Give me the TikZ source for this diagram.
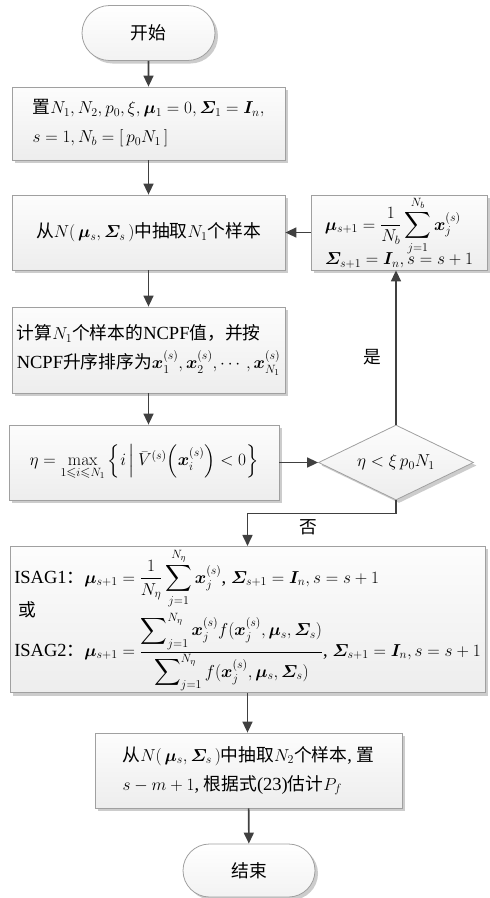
\documentclass[tikz,border=0pt]{standalone}
\usepackage{amsmath}
\usepackage{amssymb}
\usepackage{bm}
\usepackage[no-math]{fontspec}
\setmainfont{Liberation Serif}
\newfontfamily\cjk[Scale=0.96]{Noto Sans CJK SC}
\newcommand\zh[1]{{\cjk #1}}
\newcommand\fsz{\fontsize{18.5}{29}\selectfont}
\newcommand\bSig{\bm{\varSigma}}
\usetikzlibrary{shapes.geometric,shapes.misc,shadows,arrows.meta}
\definecolor{edgegray}{HTML}{A0A0A0}
\definecolor{arrowgray}{HTML}{404040}
\tikzset{
  boxbase/.style={draw=edgegray, line width=0.8pt, top color=gray!2, bottom color=gray!14,
    drop shadow={shadow xshift=3pt, shadow yshift=-3pt, fill=gray!40, opacity=1},
    font=\fsz, align=left, inner sep=2pt},
  procbox/.style={boxbase, rectangle},
  termbox/.style={boxbase, rounded rectangle, top color=white, bottom color=gray!10},
  decbox/.style={boxbase, diamond, inner sep=0pt, align=center},
  flow/.style={draw=arrowgray, line width=1.6pt, -{Triangle[length=11pt,width=10pt]}},
  lbl/.style={font=\fsz, inner sep=0pt}
}
\begin{document}
\begin{tikzpicture}[x=1pt,y=-1pt]
\useasboundingbox (0,0) rectangle (490,898);

\node[termbox, minimum width=137pt, minimum height=55pt] (start) at (148.5,33) {\zh{开始}};

\node[procbox, minimum width=273pt, minimum height=73pt] (b1) at (148.5,123.5)
  {\zh{置}$N_1, N_2, p_0, \xi, \bm{\mu}_1 = 0, \bSig_1 = \bm{I}_n,$\\
   $s = 1, N_b = [\, p_0 N_1 \,]$};

\node[procbox, minimum width=273pt, minimum height=75pt] (b2) at (148.5,232.5)
  {\zh{从}$N(\,\bm{\mu}_s, \bSig_s\,)$\zh{中抽取}$N_1$\zh{个样本}};

\node[procbox, minimum width=273pt, minimum height=86pt] (b3) at (148.5,350)
  {\zh{计算}$N_1$\zh{个样本的}NCPF\zh{值，并按}\\
   NCPF\zh{升序排序为}$\bm{x}_1^{(s)}, \bm{x}_2^{(s)}, \cdots, \bm{x}_{N_1}^{(s)}$};

\node[procbox, minimum width=270pt, minimum height=75pt] (b4) at (144,462.5)
  {$\eta = \max\limits_{1\leqslant i\leqslant N_1}\left\{ i \,\middle|\, \bar{V}^{(s)}\!\left(\bm{x}_i^{(s)}\right) < 0\right\}$};

\node[decbox, minimum width=155pt, minimum height=75pt, aspect=2] (dia) at (396,462.5)
  {$\eta < \xi\, p_0 N_1$};

\node[procbox, minimum width=176pt, minimum height=75pt, inner sep=1pt] (rb) at (399,232.5)
  {$\bm{\mu}_{s+1} = \dfrac{1}{N_b}\displaystyle\sum_{j=1}^{N_b}\bm{x}_j^{(s)}$\\[-4pt]
   $\bSig_{s+1} = \bm{I}_n, s = s+1$};

\node[procbox, minimum width=475pt, minimum height=140pt] (b5) at (247.5,619.5)
  {ISAG1\zh{：}$\bm{\mu}_{s+1} = \dfrac{1}{N_\eta}\displaystyle\sum_{j=1}^{N_\eta}\bm{x}_j^{(s)}$, $\bSig_{s+1} = \bm{I}_n, s = s+1$\\[-8pt]
   \ \zh{或}\\[-6pt]
   ISAG2\zh{：}$\bm{\mu}_{s+1} = \dfrac{\displaystyle\sum\nolimits_{j=1}^{N_\eta}\bm{x}_j^{(s)} f(\bm{x}_j^{(s)}, \bm{\mu}_s, \bSig_s)}{\displaystyle\sum\nolimits_{j=1}^{N_\eta} f(\bm{x}_j^{(s)}, \bm{\mu}_s, \bSig_s)}$, $\bSig_{s+1} = \bm{I}_n, s = s+1$};

\node[procbox, minimum width=307pt, minimum height=75pt] (b6) at (248.5,770.5)
  {\zh{从}$N(\,\bm{\mu}_s, \bSig_s\,)$\zh{中抽取}$N_2$\zh{个样本}, \zh{置}\\
   $s - m + 1$, \zh{根据式}(23)\zh{估计}$P_f$};

\node[termbox, minimum width=136pt, minimum height=53pt] (end) at (249,870.5) {\zh{结束}};

\draw[flow] (start) -- (b1);
\draw[flow] (b1) -- (b2);
\draw[flow] (b2) -- (b3);
\draw[flow] (b3.south) -- (b3.south |- b4.north);
\draw[flow] (b4.east) -- (dia.west);
\draw[flow] (dia.north) -- (dia.north |- rb.south);
\draw[flow] (rb.west) -- (b2.east);
\coordinate (turn) at ([yshift=-13pt]dia.south);
\draw[flow] (dia.south) -- (turn) -| (b5.north);
\draw[flow] (b5.south) -- (b5.south |- b6.north);
\draw[flow] (b6) -- (end);

\node[lbl] (yes) at (372,357) {\zh{是}};
\node[lbl] (no) at (308,527) {\zh{否}};
\end{tikzpicture}
\end{document}
